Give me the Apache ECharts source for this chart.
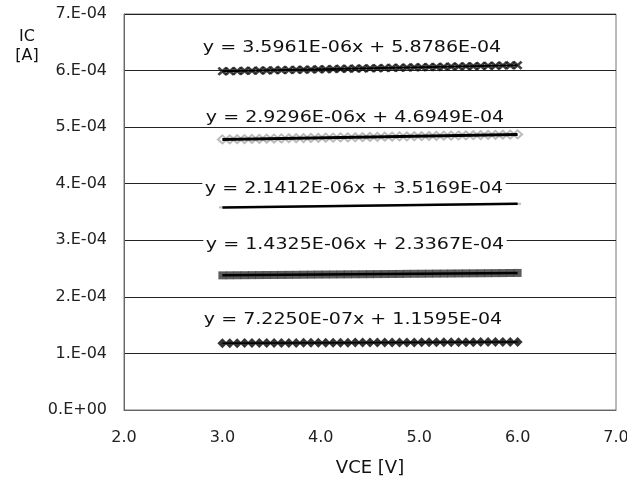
<!DOCTYPE html>
<html>
<head>
<meta charset="utf-8">
<script src="https://cdn.jsdelivr.net/npm/echarts@6/dist/echarts.min.js"></script>
<style>
  html, body { margin: 0; padding: 0; background: #fff; }
  #chart { width: 627px; height: 479px; }
</style>
</head>
<body>
<div id="chart"></div>
<script>
// VCE sweep [V]
const vce = [3.000, 3.075, 3.150, 3.225, 3.300, 3.375, 3.450, 3.525, 3.600, 3.675,
  3.750, 3.825, 3.900, 3.975, 4.050, 4.125, 4.200, 4.275, 4.350, 4.425,
  4.500, 4.575, 4.650, 4.725, 4.800, 4.875, 4.950, 5.025, 5.100, 5.175,
  5.250, 5.325, 5.400, 5.475, 5.550, 5.625, 5.700, 5.775, 5.850, 5.925, 6.000]

// IC values, in units of 1E-04 A
const ic1 = [5.987, 5.989, 5.992, 5.995, 5.997, 6.000, 6.003, 6.005, 6.008, 6.011,
  6.014, 6.016, 6.019, 6.022, 6.024, 6.027, 6.030, 6.032, 6.035, 6.038,
  6.040, 6.043, 6.046, 6.049, 6.051, 6.054, 6.057, 6.059, 6.062, 6.065,
  6.067, 6.070, 6.073, 6.076, 6.078, 6.081, 6.084, 6.086, 6.089, 6.092, 6.094]
const ic2 = [4.783, 4.785, 4.787, 4.789, 4.792, 4.794, 4.796, 4.798, 4.800, 4.803,
  4.805, 4.807, 4.809, 4.811, 4.814, 4.816, 4.818, 4.820, 4.822, 4.825,
  4.827, 4.829, 4.831, 4.833, 4.836, 4.838, 4.840, 4.842, 4.844, 4.847,
  4.849, 4.851, 4.853, 4.855, 4.858, 4.860, 4.862, 4.864, 4.866, 4.869, 4.871]
const ic3 = [3.581, 3.583, 3.584, 3.586, 3.588, 3.589, 3.591, 3.592, 3.594, 3.596,
  3.597, 3.599, 3.600, 3.602, 3.604, 3.605, 3.607, 3.608, 3.610, 3.612,
  3.613, 3.615, 3.616, 3.618, 3.620, 3.621, 3.623, 3.624, 3.626, 3.628,
  3.629, 3.631, 3.632, 3.634, 3.636, 3.637, 3.639, 3.640, 3.642, 3.644, 3.645]
const ic4 = [2.380, 2.381, 2.382, 2.383, 2.384, 2.385, 2.386, 2.387, 2.388, 2.389,
  2.390, 2.392, 2.393, 2.394, 2.395, 2.396, 2.397, 2.398, 2.399, 2.400,
  2.401, 2.402, 2.403, 2.404, 2.405, 2.407, 2.408, 2.409, 2.410, 2.411,
  2.412, 2.413, 2.414, 2.415, 2.416, 2.417, 2.418, 2.419, 2.420, 2.422, 2.423]
const ic5 = [1.181, 1.182, 1.182, 1.183, 1.183, 1.184, 1.184, 1.185, 1.185, 1.186,
  1.186, 1.187, 1.188, 1.188, 1.189, 1.189, 1.190, 1.190, 1.191, 1.191,
  1.192, 1.192, 1.193, 1.193, 1.194, 1.195, 1.195, 1.196, 1.196, 1.197,
  1.197, 1.198, 1.198, 1.199, 1.199, 1.200, 1.200, 1.201, 1.201, 1.202, 1.203]

// trendline equations as printed on the chart
const equations = [
  'y = 3.5961E-06x + 5.8786E-04',
  'y = 2.9296E-06x + 4.6949E-04',
  'y = 2.1412E-06x + 3.5169E-04',
  'y = 1.4325E-06x + 2.3367E-04',
  'y = 7.2250E-07x + 1.1595E-04'
]

const FONT = '"DejaVu Sans", "Liberation Sans", sans-serif'
const xMark = 'path://M0,2L2,0L5,3L8,0L10,2L7,5L10,8L8,10L5,7L2,10L0,8L3,5Z'

const chart = echarts.init(document.getElementById('chart'))

function pts(ys) {
  return vce.map((x, i) => [x, ys[i]])
}
// straight fit line from first to last point
function trend(ys) {
  return [[vce[0], ys[0]], [vce[vce.length - 1], ys[ys.length - 1]]]
}
function scatter(ys, symbol, size, color, border) {
  return {
    type: 'scatter',
    data: pts(ys),
    symbol: symbol,
    symbolSize: size,
    itemStyle: { color: color, borderWidth: border || 0 },
    silent: true,
    z: 3
  }
}
function fitLine(ys, width) {
  return {
    type: 'line',
    data: trend(ys),
    symbol: 'none',
    lineStyle: { color: '#000', width: width },
    silent: true,
    z: 4
  }
}

// equation label centres (pixels)
const eqPos = [[352, 48], [355, 118], [354, 189], [355, 245], [353, 320]]

const option = {
  animation: false,
  backgroundColor: '#fff',
  grid: {
    left: 124,
    right: 11,
    top: 14,
    bottom: 69,
    outerBoundsMode: 'none',
    show: true,
    borderColor: '#777',
    borderWidth: 1
  },
  xAxis: {
    type: 'value',
    min: 2,
    max: 7,
    interval: 1,
    name: 'VCE [V]',
    nameLocation: 'middle',
    nameGap: 49,
    nameTextStyle: { fontFamily: FONT, fontSize: 18, color: '#111' },
    axisLine: { show: true, lineStyle: { color: '#666' } },
    axisTick: { show: false },
    splitLine: { show: false },
    axisLabel: {
      margin: 20,
      fontFamily: FONT,
      fontSize: 16,
      color: '#222',
      formatter: v => v.toFixed(1)
    }
  },
  yAxis: {
    type: 'value',
    min: 0,
    max: 7,
    interval: 1,
    axisLine: { show: true, lineStyle: { color: '#666' } },
    axisTick: { show: false },
    splitLine: { show: true, lineStyle: { color: '#222', width: 1 } },
    axisLabel: {
      margin: 17,
      fontFamily: FONT,
      fontSize: 16,
      color: '#222',
      formatter: v => v === 0 ? '0.E+00' : v + '.E-04'
    }
  },
  series: [
    scatter(ic1, xMark, [10, 9], '#111'),
    scatter(ic2, 'emptyDiamond', [9, 8], '#aaa', 1),
    scatter(ic3, 'rect', [7, 2], '#aaa'),
    scatter(ic4, 'rect', [8, 8], '#333'),
    scatter(ic5, 'diamond', [10, 10], '#000'),
    fitLine(ic1, 2),
    fitLine(ic2, 3),
    fitLine(ic3, 2.5),
    fitLine(ic4, 2.5),
    fitLine(ic5, 1.5)
  ],
  graphic: [
    {
      type: 'text',
      x: 27,
      y: 27,
      style: {
        text: 'IC\n[A]',
        font: '16px ' + FONT,
        fill: '#111',
        lineHeight: 19,
        textAlign: 'center'
      }
    }
  ].concat(equations.map((t, i) => ({
    type: 'text',
    x: eqPos[i][0],
    y: eqPos[i][1],
    scaleX: 1.27,
    z: 10,
    style: {
      text: t,
      font: '15px ' + FONT,
      fill: '#111',
      textAlign: 'center',
      textVerticalAlign: 'middle',
      backgroundColor: '#fff',
      padding: [0, 2]
    }
  })))
}

chart.setOption(option)
</script>
</body>
</html>
